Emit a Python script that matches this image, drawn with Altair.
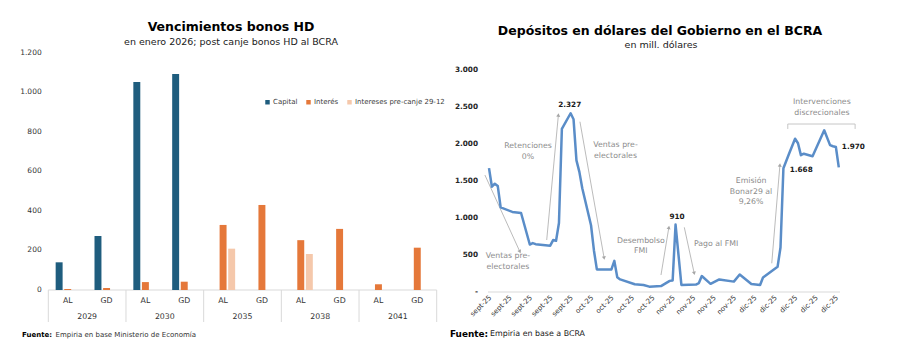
import math
import altair as alt
import pandas as pd

FONT = "DejaVu Sans"

# ---------------- Left chart data: Vencimientos bonos HD ----------------
years = ["2029", "2030", "2035", "2038", "2041"]
bonds = ["AL", "GD"]
series_names = ["Capital", "Interés", "Intereses pre-canje 29-12"]
series_colors = ["#1F5D7E", "#E5783A", "#F5C8AB"]
# order: 2029 AL, 2029 GD, 2030 AL, 2030 GD, 2035 AL, 2035 GD, 2038 AL, 2038 GD, 2041 AL, 2041 GD
capital = [140, 273, 1052, 1092, 0, 0, 0, 0, 0, 0]
interes = [5, 10, 40, 42, 329, 430, 252, 309, 29, 214]
precanje = [0, 0, 0, 0, 209, 0, 182, 0, 0, 0]
left_ticks = [0, 200, 400, 600, 800, 1000, 1200]
left_tick_labels = ["0", "200", "400", "600", "800", "1.000", "1.200"]

# ---------------- Right chart data: Depósitos en dólares ----------------
days = [0, 1, 2, 3, 4, 8, 11, 14, 15, 16, 21, 22, 23, 24, 25, 28, 29, 30, 31, 32,
        35, 36, 37, 42, 43, 44, 45, 50, 53, 55, 59, 62, 63, 64, 66, 71, 72, 73, 76,
        79, 84, 86, 90, 93, 94, 99, 100, 101, 103, 105, 106, 107, 108, 111, 115,
        117, 118, 119, 120]
deposits = [1670, 1420, 1460, 1430, 1140, 1080, 1065, 640, 660, 645, 625, 700, 690, 930, 2200, 2410, 2330, 1775, 1620, 1400,
            900, 560, 305, 305, 420, 200, 170, 105, 95, 72, 80, 150, 155, 910, 95, 100, 120, 215, 110,
            170, 140, 235, 107, 95, 195, 340, 600, 1668, 1870, 2066, 2005, 1845, 1865, 1830, 2180,
            1980, 1965, 1955, 1680]
right_ticks = [0, 500, 1000, 1500, 2000, 2500, 3000]
right_tick_labels = ["-", "500", "1.000", "1.500", "2.000", "2.500", "3.000"]
x_tick_days = [0, 7, 14, 21, 28, 35, 42, 49, 56, 63, 70, 77, 84, 91, 98, 105, 112, 119]
x_tick_labels = ["sept-25", "sept-25", "sept-25", "sept-25", "sept-25",
                 "oct-25", "oct-25", "oct-25", "oct-25",
                 "nov-25", "nov-25", "nov-25", "nov-25",
                 "dic-25", "dic-25", "dic-25", "dic-25", "dic-25"]

# annotation arrows (start day, start value, end day, end value) - head at end
arrows = [
    (-1.4, 1577, 10.6, 543),
    (19.8, 701, 23.8, 2386),
    (31.2, 2296, 39.5, 458),
    (59.0, 229, 61.7, 870),
    (67.0, 872, 70.4, 252),
    (97.0, 387, 99.8, 1712),
]
notes = [
    ("Ventas pre-", 6.5, 485), ("electorales", 6.5, 341),
    ("Retenciones", 13.4, 1968), ("0%", 13.4, 1824),
    ("Ventas pre-", 43.4, 1982), ("electorales", 43.4, 1834),
    ("Desembolso", 52.1, 692), ("FMI", 52.1, 553),
    ("Pago al FMI", 77.9, 643),
    ("Emisión", 89.9, 1501), ("Bonar29 al", 89.9, 1352), ("9,26%", 89.9, 1218),
    ("Intervenciones", 114.2, 2566), ("discrecionales", 114.2, 2409),
]
bracket = [(102.5, 2265, 125.6, 2265), (102.5, 2265, 102.5, 2198), (125.6, 2265, 125.6, 2198)]
value_labels = [("2.327", 27.7, 2521), ("910", 64.5, 1011), ("1.668", 107.1, 1645), ("1.970", 125.0, 1955)]

# ---------------- scales ----------------
keys = [f"{y} {b}" for y in years for b in bonds]
xL = alt.Scale(domain=keys, range=[48.3, 436.7], paddingInner=0, paddingOuter=0)
xYear = alt.Scale(domain=years, range=[48.3, 436.7], paddingInner=0, paddingOuter=0)
yL = alt.Scale(domain=[0, 1200], range=[290, 52.7], nice=False, zero=True)
xR = alt.Scale(domain=[0, 120], range=[489, 838.8], nice=False, zero=False)
yR = alt.Scale(domain=[0, 3000], range=[292, 69.5], nice=False, zero=True)
PX_DAY = (838.8 - 489) / 120
PX_VAL = (292 - 69.5) / 3000

# ---------------- frames ----------------
rows = []
for i, k in enumerate(keys):
    for s, vals in zip(series_names, [capital, interes, precanje]):
        if vals[i] > 0:
            rows.append({"key": k, "series": s, "value": vals[i]})
bar_df = pd.DataFrame(rows)
sub_df = pd.DataFrame({"key": keys, "bond": [k.split(" ")[1] for k in keys]})
year_df = pd.DataFrame({"year": years})
lt_df = pd.DataFrame({"v": left_ticks, "lab": left_tick_labels})
rt_df = pd.DataFrame({"v": right_ticks, "lab": right_tick_labels})
xt_df = pd.DataFrame({"d": x_tick_days, "lab": x_tick_labels})
line_df = pd.DataFrame({"d": days, "v": deposits})
arr_df = pd.DataFrame(arrows, columns=["x1", "y1", "x2", "y2"])
arr_df["ang"] = [
    (math.degrees(math.atan2((x2 - x1) * PX_DAY, (y2 - y1) * PX_VAL)) % 360)
    for x1, y1, x2, y2 in arrows
]
note_df = pd.DataFrame(notes, columns=["t", "d", "v"])
br_df = pd.DataFrame(bracket, columns=["x1", "y1", "x2", "y2"])
vl_df = pd.DataFrame(value_labels, columns=["t", "d", "v"])

GRID = "#d9d9d9"

# ---------------- left layers ----------------
bars = alt.Chart(bar_df).mark_bar().encode(
    x=alt.X("key:N", scale=xL, axis=None),
    xOffset=alt.XOffset("series:N", scale=alt.Scale(domain=series_names, paddingInner=0.19, paddingOuter=0.857)),
    y=alt.Y("value:Q", scale=yL, axis=None),
    color=alt.Color("series:N", scale=alt.Scale(domain=series_names, range=series_colors),
                    legend=alt.Legend(title=None, orient="none", legendX=264, legendY=98.5,
                                      direction="horizontal", symbolType="square", symbolSize=20,
                                      labelFont=FONT, labelFontSize=7, labelColor="#404040",
                                      columnPadding=7, labelOffset=2, symbolStrokeWidth=0, padding=0)),
)
left_base = alt.Chart(pd.DataFrame({"v": [0]})).mark_rule(color=GRID, strokeWidth=1).encode(
    y=alt.Y("v:Q", scale=yL, axis=None), x=alt.value(48.3), x2=alt.value(436.7))
seps = alt.Chart(year_df).mark_rule(color=GRID, strokeWidth=1).encode(
    x=alt.X("year:N", scale=xYear, bandPosition=0, axis=None), y=alt.value(290), y2=alt.value(322))
sep_end = alt.Chart(year_df.tail(1)).mark_rule(color=GRID, strokeWidth=1).encode(
    x=alt.X("year:N", scale=xYear, bandPosition=1, axis=None), y=alt.value(290), y2=alt.value(322))
sub_labels = alt.Chart(sub_df).mark_text(font=FONT, fontSize=7.8, color="#333333", baseline="middle").encode(
    x=alt.X("key:N", scale=xL, axis=None), y=alt.value(301), text="bond:N")
year_labels = alt.Chart(year_df).mark_text(font=FONT, fontSize=7.8, color="#333333", baseline="middle").encode(
    x=alt.X("year:N", scale=xYear, axis=None), y=alt.value(317), text="year:N")
ly_labels = alt.Chart(lt_df).mark_text(font=FONT, fontSize=7.5, color="#333333", align="right", baseline="middle").encode(
    y=alt.Y("v:Q", scale=yL, axis=None), x=alt.value(41.7), text="lab:N")

# ---------------- right layers ----------------
right_base = alt.Chart(pd.DataFrame({"v": [0]})).mark_rule(color=GRID, strokeWidth=1).encode(
    y=alt.Y("v:Q", scale=yR, axis=None), x=alt.value(488), x2=alt.value(840))
ry_labels = alt.Chart(rt_df).mark_text(font=FONT, fontSize=7.3, color="#262626", fontWeight="bold", align="right", baseline="middle").encode(
    y=alt.Y("v:Q", scale=yR, axis=None), x=alt.value(478), text="lab:N")
rx_labels = alt.Chart(xt_df).mark_text(font=FONT, fontSize=7, color="#333333", align="right", baseline="middle", angle=315, dx=2).encode(
    x=alt.X("d:Q", scale=xR, axis=None), y=alt.value(298), text="lab:N")
line = alt.Chart(line_df).mark_line(color="#5A8DC8", strokeWidth=2.5, strokeJoin="round").encode(
    x=alt.X("d:Q", scale=xR, axis=None), y=alt.Y("v:Q", scale=yR, axis=None))
arrow_lines = alt.Chart(arr_df).mark_rule(color="#b3b3b3", strokeWidth=0.9).encode(
    x=alt.X("x1:Q", scale=xR, axis=None), x2="x2:Q",
    y=alt.Y("y1:Q", scale=yR, axis=None), y2="y2:Q")
arrow_heads = alt.Chart(arr_df).mark_point(shape="triangle-up", filled=True, size=16, color="#a6a6a6", opacity=1).encode(
    x=alt.X("x2:Q", scale=xR, axis=None), y=alt.Y("y2:Q", scale=yR, axis=None),
    angle=alt.Angle("ang:Q", scale=None))
bracket_lines = alt.Chart(br_df).mark_rule(color="#bfbfbf", strokeWidth=0.9).encode(
    x=alt.X("x1:Q", scale=xR, axis=None), x2="x2:Q",
    y=alt.Y("y1:Q", scale=yR, axis=None), y2="y2:Q")
note_text = alt.Chart(note_df).mark_text(font=FONT, fontSize=7.8, color="#8c8c8c", baseline="middle").encode(
    x=alt.X("d:Q", scale=xR, axis=None), y=alt.Y("v:Q", scale=yR, axis=None), text="t:N")
val_text = alt.Chart(vl_df).mark_text(font=FONT, fontSize=7.3, color="#1a1a1a", fontWeight="bold", baseline="middle").encode(
    x=alt.X("d:Q", scale=xR, axis=None), y=alt.Y("v:Q", scale=yR, axis=None), text="t:N")

# ---------------- titles & sources ----------------
def txt(t, x, y, size, weight="normal", color="#000000", align="center"):
    return alt.Chart(pd.DataFrame({"t": [t]})).mark_text(
        font=FONT, fontSize=size, fontWeight=weight, color=color, align=align, baseline="middle"
    ).encode(x=alt.value(x), y=alt.value(y), text="t:N")

texts = [
    txt("Vencimientos bonos HD", 231, 27, 12.5, "bold"),
    txt("en enero 2026; post canje bonos HD al BCRA", 231, 42, 9.5, color="#1a1a1a"),
    txt("Depósitos en dólares del Gobierno en el BCRA", 660, 31, 12.5, "bold"),
    txt("en mill. dólares", 661, 45, 9.5, color="#1a1a1a"),
    txt("Fuente:", 22, 335, 7, "bold", align="left"),
    txt("Empiria en base Ministerio de Economía", 55.5, 335, 7, color="#333333", align="left"),
    txt("Fuente:", 450, 334, 8.9, "bold", align="left"),
    txt("Empiria en base a BCRA", 490, 334, 7.9, color="#1a1a1a", align="left"),
]

chart = alt.layer(
    left_base, seps, sep_end, bars, sub_labels, year_labels, ly_labels,
    right_base, ry_labels, rx_labels, arrow_lines, arrow_heads, bracket_lines,
    line, note_text, val_text, *texts
).resolve_scale(
    x="independent", y="independent", color="independent"
).properties(
    width=900, height=356, autosize=alt.AutoSizeParams(type="none"), padding=0,
    background="white"
).configure_view(stroke=None)

chart.save("out.html", embed_options={"renderer": "svg", "actions": False})
